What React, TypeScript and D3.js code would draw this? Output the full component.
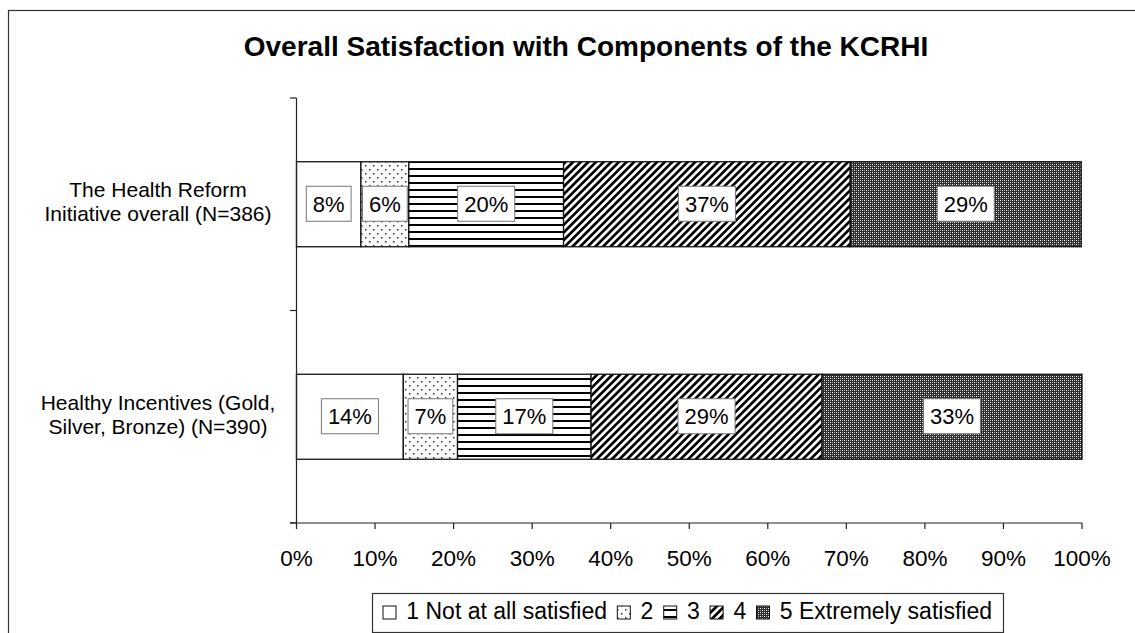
import React, { useEffect, useRef } from "react";
import * as d3 from "d3";

const title = "Overall Satisfaction with Components of the KCRHI";
const categories = [
  ["The Health Reform", "Initiative overall (N=386)"],
  ["Healthy Incentives (Gold,", "Silver, Bronze) (N=390)"],
];
const seriesNames = ["1 Not at all satisfied", "2", "3", "4", "5 Extremely satisfied"];
const row1 = [8.2, 6.1, 19.7, 36.5, 29.4];
const row2 = [13.6, 6.9, 17.0, 29.4, 33.1];
const rows = [row1, row2];
const xTicks = [0, 10, 20, 30, 40, 50, 60, 70, 80, 90, 100];
const patternIds = ["p1", "p2", "p3", "p4", "p5"];

const FONT = "Arial, 'Liberation Sans', sans-serif";

export default function App() {
  const ref = useRef<SVGSVGElement | null>(null);

  useEffect(() => {
    const svg = d3.select(ref.current!);
    svg.selectAll("*").remove();

    const defs = svg.append("defs");
    const p1 = defs.append("pattern").attr("id", "p1").attr("patternUnits", "userSpaceOnUse").attr("width", 4).attr("height", 4);
    p1.append("rect").attr("width", 4).attr("height", 4).attr("fill", "#fff");
    const p2 = defs.append("pattern").attr("id", "p2").attr("patternUnits", "userSpaceOnUse").attr("width", 8).attr("height", 8);
    p2.append("rect").attr("width", 8).attr("height", 8).attr("fill", "#fff");
    p2.append("rect").attr("x", 1).attr("y", 1).attr("width", 1.5).attr("height", 1.5).attr("fill", "#333");
    p2.append("rect").attr("x", 5).attr("y", 5).attr("width", 1.5).attr("height", 1.5).attr("fill", "#333");
    const p3 = defs.append("pattern").attr("id", "p3").attr("patternUnits", "userSpaceOnUse").attr("width", 8).attr("height", 7);
    p3.append("rect").attr("width", 8).attr("height", 7).attr("fill", "#fff");
    p3.append("rect").attr("y", 0).attr("width", 8).attr("height", 2).attr("fill", "#000");
    const p4 = defs.append("pattern").attr("id", "p4").attr("patternUnits", "userSpaceOnUse").attr("width", 5.4).attr("height", 10).attr("patternTransform", "rotate(45)");
    p4.append("rect").attr("width", 5.4).attr("height", 10).attr("fill", "#fff");
    p4.append("rect").attr("width", 2.7).attr("height", 10).attr("fill", "#000");
    const p5 = defs.append("pattern").attr("id", "p5").attr("patternUnits", "userSpaceOnUse").attr("width", 4).attr("height", 4);
    p5.append("rect").attr("width", 4).attr("height", 4).attr("fill", "#2e2e2e");
    p5.append("rect").attr("x", 0).attr("y", 0).attr("width", 1).attr("height", 1).attr("fill", "#fff");
    p5.append("rect").attr("x", 2).attr("y", 2).attr("width", 1).attr("height", 1).attr("fill", "#fff");
    p5.append("rect").attr("x", 0).attr("y", 2).attr("width", 1).attr("height", 1).attr("fill", "#999");
    p5.append("rect").attr("x", 2).attr("y", 0).attr("width", 1).attr("height", 1).attr("fill", "#999");

    // outer frame
    svg.append("rect").attr("x", 8.5).attr("y", 10.5).attr("width", 1300).attr("height", 800)
      .attr("fill", "#fff").attr("stroke", "#333").attr("stroke-width", 1.2);

    svg.append("text").attr("x", 586).attr("y", 56).attr("text-anchor", "middle")
      .attr("font-family", FONT).attr("font-weight", "bold").attr("font-size", 28).text(title);

    const x = d3.scaleLinear().domain([0, 100]).range([296.5, 1082]);
    const y = d3.scaleBand<number>().domain([0, 1]).range([98, 523]).paddingInner(0).paddingOuter(0);
    const step = y.step();

    rows.forEach((vals, ri) => {
      const stacked = d3.cumsum(vals);
      const by = y(ri)! + step * 0.3;
      const bh = step * 0.4;
      vals.forEach((v, i) => {
        const x0 = x(i === 0 ? 0 : stacked[i - 1]);
        const x1 = x(Math.min(100, stacked[i]));
        svg.append("rect").attr("x", x0).attr("y", by).attr("width", x1 - x0).attr("height", bh)
          .attr("fill", `url(#${patternIds[i]})`).attr("stroke", "#111").attr("stroke-width", 1.3);
      });
      vals.forEach((v, i) => {
        const x0 = x(i === 0 ? 0 : stacked[i - 1]);
        const x1 = x(Math.min(100, stacked[i]));
        const cx = (x0 + x1) / 2;
        const cy = by + bh / 2;
        const g = svg.append("g");
        const t = g.append("text").attr("x", cx).attr("y", cy + 7.5).attr("text-anchor", "middle")
          .attr("font-family", FONT).attr("font-size", 22).attr("fill", "#000").text(`${Math.round(v)}%`);
        const w = (t.node() as SVGTextElement).getComputedTextLength();
        g.insert("rect", "text").attr("x", cx - w / 2 - 6.5).attr("y", cy - 18).attr("width", w + 13).attr("height", 35)
          .attr("fill", "#fff").attr("stroke", "#777").attr("stroke-width", 1);
      });
    });

    const axisColor = "#222";
    svg.append("line").attr("x1", 296.5).attr("x2", 296.5).attr("y1", 98).attr("y2", 523).attr("stroke", axisColor).attr("stroke-width", 1.2);
    [0, 1, 2].forEach((k) => {
      const yy = 98 + k * step;
      svg.append("line").attr("x1", 290).attr("x2", 296.5).attr("y1", yy).attr("y2", yy).attr("stroke", axisColor).attr("stroke-width", 1.2);
    });
    svg.append("line").attr("x1", 290).attr("x2", 1082).attr("y1", 523).attr("y2", 523).attr("stroke", axisColor).attr("stroke-width", 1.2);
    xTicks.forEach((t) => {
      svg.append("line").attr("x1", x(t)).attr("x2", x(t)).attr("y1", 523).attr("y2", 529).attr("stroke", axisColor).attr("stroke-width", 1.2);
      svg.append("text").attr("x", x(t)).attr("y", 566).attr("text-anchor", "middle")
        .attr("font-family", FONT).attr("font-size", 22.5).text(`${t}%`);
    });

    categories.forEach((lines, ci) => {
      const cy = y(ci)! + step / 2;
      lines.forEach((ln, li) => {
        svg.append("text").attr("x", 158).attr("y", cy - 7 + li * 24).attr("text-anchor", "middle")
          .attr("font-family", FONT).attr("font-size", 21).text(ln);
      });
    });

    // legend
    svg.append("rect").attr("x", 372.5).attr("y", 593.5).attr("width", 631).attr("height", 39)
      .attr("fill", "#fff").attr("stroke", "#333").attr("stroke-width", 1.2);
    const texts = seriesNames.map((name) =>
      svg.append("text").attr("y", 619).attr("font-family", FONT).attr("font-size", 23).text(name)
    );
    const widths = texts.map((t) => (t.node() as SVGTextElement).getComputedTextLength());
    const sym = 13;
    const startX = 383;
    const endX = 992;
    const natural = d3.sum(widths) + sym * seriesNames.length;
    const gap = (endX - startX - natural) / (seriesNames.length * 2 - 1);
    let lx = startX;
    seriesNames.forEach((name, i) => {
      svg.append("rect").attr("x", lx).attr("y", 606).attr("width", sym).attr("height", sym)
        .attr("fill", `url(#${patternIds[i]})`).attr("stroke", "#111").attr("stroke-width", 1);
      lx += sym + gap;
      texts[i].attr("x", lx);
      lx += widths[i] + gap;
    });
  }, []);

  return (
    <svg ref={ref} width={1135} height={633}
      style={{ position: "absolute", left: 0, top: 0, background: "#fff" }} />
  );
}
